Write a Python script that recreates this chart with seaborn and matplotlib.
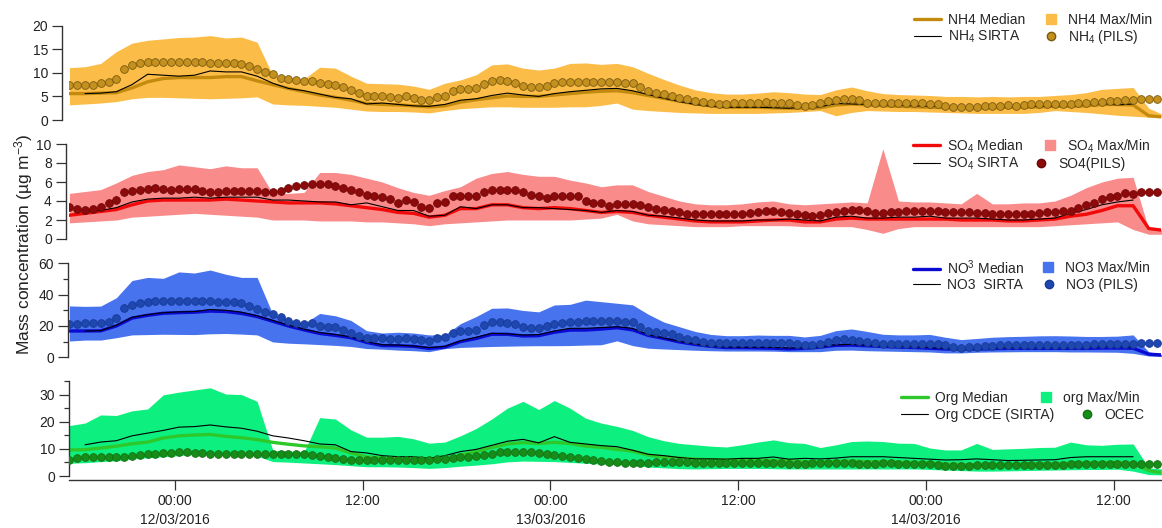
import numpy as np
import pandas as pd
import matplotlib
matplotlib.use("Agg")
import matplotlib.pyplot as plt
import matplotlib.dates as mdates
from matplotlib.lines import Line2D
from matplotlib.legend import Legend
from matplotlib.ticker import MultipleLocator, FuncFormatter
import seaborn as sns

nan = np.nan

# ---------------- time bases ----------------
t_hourly = pd.date_range("2016-03-11 17:15", periods=71, freq="1h")
t_pils = pd.date_range("2016-03-11 17:15", periods=140, freq="30min")
x_start = pd.Timestamp("2016-03-11 17:15")
x_end = pd.Timestamp("2016-03-14 15:00")

# ---------------- NH4 ----------------
nh4_max = [11.1, 11.3, 12.0, 14.5, 16.3, 16.9, 17.2, 17.5, 17.6, 17.9, 17.4, 17.6, 16.5,
           9.5, 8.8, 8.7, 11.2, 11.0, 9.3, 7.8, 7.7, 7.6, 7.2, 6.5,
           7.8, 8.5, 9.6, 11.7, 11.9, 11.0, 10.6, 11.0, 12.0, 12.1, 11.8, 12.0, 11.3, 9.9, 8.6, 7.4,
           6.4, 5.8, 5.5, 5.5, 5.7, 6.0, 5.8,
           5.5, 5.4, 6.4, 7.0, 6.2, 5.6, 5.4, 5.3, 5.2, 5.0, 5.0, 4.9, 5.0, 4.9, 5.0, 5.0, 5.2, 5.4,
           5.8, 6.5, 6.7, 6.9, 2.5, 1.0]
nh4_min = [3.2, 3.4, 3.6, 3.9, 4.5, 4.8, 4.8, 4.7, 4.6, 4.5, 4.6, 4.7, 4.9,
           3.4, 3.2, 3.1, 2.9, 2.7, 2.3, 1.9, 1.8, 1.8, 1.7, 1.5,
           2.0, 2.4, 2.6, 2.8, 2.8, 2.7, 2.7, 2.7, 2.8, 2.8, 3.1, 3.6, 2.3, 2.0, 1.8, 1.6, 1.5, 1.4,
           1.4, 1.4, 1.4, 1.5, 1.6,
           1.8, 2.0, 0.9, 1.6, 2.0, 1.9, 1.8, 1.8, 1.7, 1.6, 1.5, 1.4, 1.4, 1.4, 1.4, 1.6, 2.0, 1.8,
           1.6, 1.3, 1.0, 0.8, 0.6, 0.6]
nh4_median = [5.6, 5.6, 5.7, 5.8, 6.8, 8.1, 8.8, 9.0, 9.0, 9.0, 9.2, 9.2, 8.3,
              7.5, 6.7, 6.0, 5.3, 4.8, 4.2, 3.5, 3.3, 3.2, 3.0, 2.8,
              3.0, 3.8, 4.3, 4.7, 5.1, 5.0, 5.0, 5.3, 5.6, 5.9, 6.1, 6.2, 5.8, 5.2, 4.6, 4.0, 3.4,
              3.0, 2.7, 2.7, 2.7, 2.6, 2.5,
              2.5, 2.6, 3.2, 3.4, 3.2, 3.0, 2.9, 2.8, 2.7, 2.6, 2.6, 2.5, 2.6, 2.7, 2.7, 2.8, 2.9, 2.9,
              3.0, 3.3, 3.3, 3.2, 0.9, 0.6]
nh4_sirta = [nan, 5.6, 5.7, 6.0, 7.5, 9.7, 9.5, 9.3, 9.5, 10.4, 10.2, 10.2, 9.3,
             7.8, 6.7, 6.2, 5.5, 4.8, 4.5, 3.4, 3.6, 3.3, 3.0, 2.9,
             3.3, 4.2, 4.5, 5.2, 5.7, 5.3, 5.0, 5.6, 6.0, 6.3, 6.6, 6.7, 6.2, 5.4, 4.6, 3.9, 3.3,
             2.9, 2.7, 2.7, 2.7, 2.6, 2.5,
             2.7, 2.8, 3.5, 3.4, 3.3, 3.2, 3.1, 3.0, 2.9, 2.9, 2.8, 2.8, 2.7, 2.8, 2.9, 2.9, 3.0, 3.1,
             3.3, 3.5, 3.2, 3.4, nan, nan]
nh4_pils = [7.4, 7.4, 7.4, 7.5, 7.8, 8.1, 8.6, 10.8, 11.7, 12.0, 12.3, 12.4, 12.4, 12.3, 12.3,
            12.3, 12.3, 12.2, 12.1, 12.0, 12.0, 12.0, 11.9, 11.5, 10.8, 10.2, 9.7, 9.0, 8.6, 8.5,
            8.2, 8.3, 7.9, 7.6, 7.5, 6.9, 6.4, 5.7, 5.1, 5.1, 5.1, 4.9, 4.7, 5.0, 4.6, 4.3, 4.2,
            4.9, 5.1, 6.2, 6.5, 6.5, 6.7, 7.6, 8.3, 8.5, 8.2, 7.9, 7.3, 7.0, 7.0, 7.3, 7.8, 8.0,
            8.1, 8.1, 8.1, 8.1, 8.1, 8.1, 8.1, 7.9, 7.8, 6.9, 6.2, 5.8, 5.5, 5.1, 4.6, 4.4, 4.1,
            3.8, 3.5, 3.4, 3.4, 3.5, 3.5, 3.5, 3.7, 3.8, 3.7, 3.7, 3.5,
            3.2, 3.0, 3.2, 3.5, 4.1, 4.2, 4.4, 4.4, 4.2, 3.7, 3.7, 3.7, 3.7, 3.7, 3.5, 3.5, 3.5,
            3.4, 3.3, 3.0, 2.7, 2.7, 2.8, 2.8, 3.0, 3.0, 3.0, 3.1, 3.0, 3.1, 3.3, 3.4, 3.4, 3.4,
            3.4, 3.4, 3.5, 3.5, 3.8, 3.9, 4.1, 4.1, 4.2, 4.2, 4.4, 4.4, 4.4]

# ---------------- SO4 ----------------
so4_max = [4.8, 5.0, 5.2, 5.9, 6.7, 7.1, 7.3, 7.8, 7.6, 7.4, 7.7, 7.5, 7.5, 4.8, 4.8, 4.9,
           7.0, 7.0, 6.8, 6.4, 6.0, 5.4, 4.9, 4.6,
           5.1, 5.5, 6.4, 6.9, 7.1, 6.8, 6.6, 6.6, 6.2, 5.9, 5.5, 5.7, 5.7, 5.0, 4.5, 4.0, 3.7,
           3.6, 3.6, 3.7, 3.9, 4.0, 3.7,
           3.6, 3.7, 3.8, 3.9, 3.8, 9.5, 4.0, 3.9, 3.9, 3.8, 3.7, 4.8, 3.7, 3.7, 3.8, 3.8, 4.0,
           4.6, 5.4, 6.0, 6.4, 6.5, 1.0, 1.0]
so4_min = [1.7, 1.8, 1.9, 2.0, 2.3, 2.4, 2.5, 2.6, 2.7, 2.6, 2.5, 2.4, 2.3, 2.0, 2.0, 2.0,
           1.9, 1.9, 1.9, 1.8, 1.8, 1.7, 1.6, 1.4,
           1.6, 1.7, 1.8, 1.9, 2.0, 2.0, 2.0, 2.0, 2.0, 2.1, 2.2, 2.6, 1.9, 1.6, 1.5, 1.4, 1.3,
           1.3, 1.3, 1.4, 1.4, 1.4, 1.4,
           1.3, 1.3, 1.3, 1.3, 1.0, 0.6, 1.1, 1.3, 1.3, 1.3, 1.3, 1.3, 1.3, 1.3, 1.3, 1.3, 1.4,
           1.5, 1.6, 1.7, 1.8, 1.0, 0.5, 0.5]
so4_median = [2.5, 2.7, 2.9, 3.1, 3.6, 4.0, 4.1, 4.1, 4.1, 4.1, 4.2, 4.1, 4.0, 3.9, 3.8, 3.8,
              3.8, 3.7, 3.5, 3.3, 3.1, 2.8, 2.7, 2.3,
              2.5, 3.2, 3.2, 3.6, 3.6, 3.3, 3.2, 3.3, 3.2, 3.0, 2.8, 2.9, 2.8, 2.5, 2.3, 2.1, 1.9,
              1.8, 1.8, 1.8, 1.9, 2.0, 2.0,
              1.8, 1.8, 2.1, 2.2, 2.1, 2.1, 2.1, 2.1, 2.1, 2.1, 2.0, 2.0, 2.0, 1.9, 1.9, 2.0, 2.1,
              2.4, 2.6, 3.0, 3.5, 3.5, 1.1, 0.9]
so4_sirta = [nan, 2.9, 3.0, 3.3, 3.9, 4.2, 4.3, 4.3, 4.4, 4.3, 4.4, 4.4, 4.4, 4.1, 4.1, 4.0,
             3.9, 3.9, 3.6, 3.8, 3.4, 3.0, 3.0, 2.4,
             2.5, 3.4, 3.2, 3.6, 3.6, 3.3, 3.3, 3.2, 3.1, 3.0, 2.8, 3.0, 2.9, 2.5, 2.4, 2.2, 2.0,
             1.9, 1.9, 1.9, 2.0, 2.0, 2.1,
             2.0, 1.9, 2.3, 2.4, 2.2, 2.2, 2.3, 2.3, 2.4, 2.2, 2.2, 2.2, 2.1, 2.0, 2.0, 2.1, 2.2,
             2.7, 3.1, 3.6, 3.9, 4.1, nan, nan]
so4_pils = [3.4, 3.2, 3.1, 3.2, 3.4, 3.8, 4.1, 4.9, 5.1, 5.2, 5.3, 5.4, 5.3, 5.2, 5.3, 5.3,
            5.3, 5.1, 4.9, 4.9, 5.1, 5.1, 5.1, 5.1, 5.1, 5.0, 4.9, 5.1, 5.4, 5.6, 5.7, 5.8, 5.8,
            5.8, 5.6, 5.4, 5.2, 5.0, 4.6, 4.5, 4.4, 4.2, 3.8, 4.1, 3.9, 3.4, 3.3,
            3.8, 3.9, 4.5, 4.5, 4.5, 4.5, 4.9, 5.2, 5.2, 5.2, 5.2, 4.9, 4.6, 4.5, 4.3, 4.5, 4.5,
            4.5, 4.5, 4.0, 3.8, 3.8, 3.5, 3.7, 3.7, 3.7, 3.6, 3.4, 3.2, 3.1, 3.0, 2.8, 2.6, 2.6,
            2.6, 2.6, 2.6, 2.6, 2.6, 2.6, 2.7, 2.8, 2.9, 2.9, 2.8, 2.7,
            2.6, 2.5, 2.4, 2.5, 2.7, 2.8, 2.9, 3.1, 3.1, 2.9, 2.7, 2.7, 2.8, 2.8, 2.9, 2.9, 2.9,
            2.9, 2.9, 2.8, 2.8, 2.8, 2.8, 2.7, 2.7, 2.6, 2.6, 2.6, 2.6, 2.6, 2.6, 2.7, 2.8, 2.8,
            2.9, 3.0, 3.3, 3.6, 3.8, 4.2, 4.4, 4.5, 4.8, 4.7, 5.0, 5.0, 5.0]

# ---------------- NO3 ----------------
no3_max = [32.8, 32.5, 32.7, 38.0, 49.0, 51.0, 50.4, 54.5, 53.8, 55.7, 53.0, 51.0, 51.0,
           27.5, 24.0, 21.5, 28.0, 26.5, 23.5, 17.0, 15.5, 16.0, 15.5, 14.3,
           14.3, 21.5, 26.0, 31.3, 31.5, 29.9, 29.0, 33.4, 33.8, 36.5, 35.5, 34.5, 33.5, 27.5,
           22.5, 19.5, 16.5, 14.6, 13.8, 13.8, 14.2, 14.0, 14.0,
           13.0, 14.0, 17.0, 18.1, 16.5, 14.7, 14.3, 14.3, 14.6, 12.8, 11.3, 12.0, 12.8, 13.2,
           13.4, 13.7, 13.8, 13.6, 13.3, 13.3, 13.5, 14.3, 3.5, 1.5]
no3_min = [10.4, 11.0, 11.0, 12.5, 14.3, 14.5, 14.7, 14.6, 14.5, 15.0, 15.2, 14.8, 14.3,
           9.8, 9.0, 8.6, 8.1, 7.6, 6.9, 5.6, 5.2, 4.6, 4.2, 3.6,
           5.5, 6.3, 6.6, 6.9, 7.1, 7.3, 7.4, 7.4, 7.5, 7.8, 8.0, 10.5, 7.5, 5.8, 5.3, 4.9, 4.5,
           4.2, 4.0, 4.0, 4.0, 3.9, 3.6,
           3.6, 3.6, 4.5, 4.6, 4.2, 4.0, 3.8, 3.6, 3.4, 2.8, 2.8, 3.2, 3.4, 3.5, 3.6, 3.6, 3.6,
           3.4, 3.4, 3.3, 3.2, 2.5, 0.8, 0.4]
no3_median = [16.8, 16.8, 16.9, 20.0, 25.0, 26.8, 28.1, 28.5, 28.8, 29.5, 29.2, 28.0, 26.0,
              23.0, 20.0, 17.5, 15.2, 14.0, 12.5, 9.5, 7.5, 7.4, 7.0, 5.7,
              6.5, 10.0, 12.0, 14.7, 14.7, 13.6, 13.8, 16.0, 17.4, 17.4, 18.0, 18.9, 17.5, 14.0,
              12.0, 9.8, 8.2, 7.0, 6.2, 6.2, 6.0, 5.8, 5.3,
              5.7, 6.5, 7.6, 7.8, 7.3, 6.9, 6.5, 6.2, 5.8, 5.3, 5.3, 5.3, 5.5, 5.7, 5.7, 5.7, 5.7,
              5.7, 5.7, 5.9, 5.9, 5.8, 2.0, 1.4]
no3_sirta = [nan, 16.8, 17.0, 20.5, 25.5, 27.2, 28.5, 29.0, 29.2, 30.5, 30.0, 28.8, 26.5,
             23.5, 20.5, 18.0, 15.8, 14.6, 13.0, 10.0, 8.0, 7.8, 7.2, 6.2,
             7.0, 10.5, 12.8, 15.3, 15.0, 14.2, 14.5, 16.8, 18.5, 18.5, 19.0, 19.5, 18.5, 14.5,
             12.3, 10.2, 8.5, 7.2, 6.6, 6.5, 6.5, 6.3, 6.0,
             6.2, 6.8, 8.0, 8.3, 7.7, 7.5, 7.0, 6.8, 6.2, 5.7, 5.8, 6.2, 6.2, 6.3, 6.4, 6.5, 6.6,
             6.6, 6.8, 6.9, 7.0, 6.6, nan, nan]
no3_pils = [21.3, 21.3, 21.7, 21.7, 21.7, 22.8, 24.9, 31.3, 33.4, 34.5, 35.5, 36.0, 36.0,
            36.0, 36.0, 36.0, 36.0, 36.0, 36.0, 35.5, 35.5, 35.1, 34.9, 33.0, 30.9, 29.1, 27.4,
            26.0, 23.2, 22.1, 21.1, 21.7, 20.0, 19.6, 19.1, 17.4, 15.3, 13.8, 12.1, 12.1, 12.1,
            11.7, 11.5, 12.6, 11.7, 11.1, 10.4,
            12.1, 13.2, 15.3, 16.8, 16.8, 17.4, 20.6, 22.8, 22.8, 22.1, 21.1, 19.6, 18.9, 18.9,
            20.0, 21.1, 21.7, 22.3, 22.8, 23.2, 23.2, 23.4, 23.2, 23.2, 22.8, 22.3, 19.6, 16.8,
            16.0, 15.3, 14.7, 13.2, 11.7, 11.1, 10.0, 8.9, 8.9, 8.9, 8.9, 9.1, 9.1, 9.1, 9.4,
            9.4, 9.4, 8.9,
            8.3, 7.9, 7.9, 8.3, 10.0, 11.1, 11.5, 11.1, 10.4, 9.6, 8.9, 8.7, 8.7, 8.7, 8.7, 8.7,
            8.7, 8.7, 8.3, 7.9, 6.8, 6.2, 6.6, 6.8, 7.4, 7.4, 7.9, 7.9, 7.9, 7.9, 7.9, 7.9, 7.9,
            7.9, 7.9, 7.9, 7.9, 7.9, 8.3, 8.3, 8.3, 8.3, 8.3, 8.3, 8.9, 8.9, 8.9]

# ---------------- Organics ----------------
org_max = [18.6, 19.5, 22.5, 22.3, 24.0, 24.7, 29.9, 30.9, 31.7, 32.5, 30.2, 30.0, 27.5,
           9.5, 9.2, 8.8, 21.5, 21.0, 17.0, 14.3, 14.3, 14.6, 13.7, 12.1,
           12.5, 14.8, 17.5, 21.0, 25.0, 27.5, 24.5, 27.8, 25.0, 21.3, 19.5, 18.3, 16.8, 14.5,
           13.0, 12.0, 11.5, 11.0, 10.7, 11.5, 12.5, 13.3, 12.3,
           12.0, 10.5, 11.5, 12.7, 12.9, 12.7, 12.1, 12.0, 10.3, 9.6, 9.6, 12.0, 9.8, 10.0, 10.2,
           10.5, 10.6, 12.5, 11.5, 11.3, 11.7, 11.8, 3.0, 2.5]
org_min = [4.7, 4.9, 5.3, 5.6, 6.4, 6.7, 7.1, 7.5, 8.0, 8.0, 7.7, 7.6, 7.4,
           5.3, 5.1, 4.8, 4.5, 4.2, 3.8, 3.4, 3.4, 3.3, 3.1, 2.8,
           3.1, 3.6, 4.0, 4.5, 5.2, 5.5, 5.4, 5.3, 5.0, 4.7, 4.4, 4.2, 4.0, 3.3, 3.0, 2.7, 2.6,
           2.7, 2.8, 2.8, 2.8, 2.7, 2.6,
           2.6, 2.6, 2.6, 2.6, 2.6, 2.6, 2.6, 2.6, 2.4, 2.2, 2.0, 1.8, 1.8, 1.9, 2.0, 2.1, 2.2,
           2.3, 2.4, 2.4, 2.5, 1.8, 0.5, 0.4]
org_median = [9.6, 9.7, 10.3, 11.0, 11.9, 12.5, 14.0, 14.8, 15.1, 15.3, 14.6, 14.1, 13.4,
              12.4, 11.7, 11.1, 10.8, 10.3, 8.5, 7.0, 6.6, 6.3, 6.1, 5.9,
              6.3, 7.6, 9.0, 10.5, 11.8, 12.3, 12.0, 12.4, 12.0, 11.0, 10.6, 9.8, 9.2, 7.7, 7.0,
              6.6, 6.2, 6.0, 5.9, 5.9, 5.9, 5.7, 5.6,
              5.3, 5.1, 5.4, 5.5, 5.3, 5.3, 5.1, 5.0, 4.8, 4.4, 4.3, 4.1, 4.1, 4.2, 4.3, 4.5, 4.6,
              4.7, 4.8, 4.9, 5.0, 4.7, 2.0, 1.0]
org_sirta = [nan, 11.5, 12.5, 13.0, 14.8, 15.8, 16.8, 18.0, 18.2, 18.8, 18.1, 17.6, 16.5,
             14.8, 14.0, 13.0, 11.8, 11.5, 9.0, 8.5, 7.5, 7.1, 7.1, 6.5,
             7.5, 9.0, 9.8, 11.3, 12.8, 13.5, 12.2, 14.5, 12.4, 11.8, 11.2, 10.8, 9.5, 8.0, 7.5,
             6.8, 6.3, 6.3, 6.2, 6.5, 6.5, 7.0, 6.2,
             6.5, 6.3, 6.6, 7.1, 7.1, 7.1, 6.8, 6.5, 6.2, 5.9, 6.0, 6.3, 6.0, 5.7, 5.8, 5.9, 6.0,
             6.8, 7.1, 7.1, 7.1, 7.1, nan, nan]
org_ocec = [5.9, 6.5, 6.9, 7.1, 7.1, 7.1, 7.1, 7.1, 7.4, 7.6, 8.0, 8.2, 8.4, 8.6, 8.7, 8.7,
            8.6, 8.4, 8.1, 8.0, 8.0, 8.0, 8.0, 8.0, 8.0, 8.0, 8.0, 8.0, 8.0, 8.0, 8.0, 7.7, 7.4,
            7.1, 6.8, 6.3, 6.0, 5.9, 5.9, 5.9, 5.9, 5.9, 6.0, 5.9, 5.9, 5.9, 5.8,
            6.3, 6.3, 6.8, 6.9, 7.1, 7.4, 7.7, 8.1, 8.7, 9.0, 9.0, 8.7, 8.7, 8.4, 8.0, 7.7, 7.4,
            7.1, 6.5, 6.3, 5.9, 5.5, 5.3, 5.0, 4.9, 4.7, 4.7, 4.9, 5.0, 5.0, 5.0, 5.0, 5.0, 4.9,
            4.7, 4.7, 4.7, 4.7, 4.7, 4.7, 4.7, 4.7, 4.7, 4.7, 4.7, 4.6,
            4.6, 4.6, 4.7, 4.7, 4.8, 4.8, 4.7, 4.7, 4.6, 4.6, 4.6, 4.7, 4.7, 4.6, 4.6, 4.5, 4.4,
            4.3, 4.0, 3.8, 3.7, 3.7, 3.8, 3.9, 4.0, 4.0, 4.1, 4.1, 4.2, 4.2, 4.2, 4.2, 4.2, 4.2,
            4.2, 4.3, 4.3, 4.3, 4.3, 4.3, 4.3, 4.3, 4.3, 4.4, 4.5, 4.6, 4.6]

# ---------------- labels ----------------
nh4_labels = ["NH4 Median", "NH$_4$ SIRTA", "NH4 Max/Min", "NH$_4$ (PILS)"]
so4_labels = ["SO$_4$ Median", "SO$_4$ SIRTA", "SO$_4$ Max/Min", "SO4(PILS)"]
no3_labels = ["NO$^3$ Median", "NO3  SIRTA", "NO3 Max/Min", "NO3 (PILS)"]
org_labels = ["Org Median", "Org CDCE (SIRTA)", "org Max/Min", "OCEC"]
y_label = "Mass concentration (µg m$^{-3}$)"

# ---------------- style ----------------
sns.set_style("ticks")
plt.rcParams["font.family"] = ["Liberation Sans", "DejaVu Sans"]
plt.rcParams["mathtext.fontset"] = "custom"
plt.rcParams["mathtext.rm"] = "Liberation Sans"
plt.rcParams["mathtext.it"] = "Liberation Sans:italic"
plt.rcParams["mathtext.bf"] = "Liberation Sans:bold"
plt.rcParams["mathtext.default"] = "regular"

W, H = 1162, 528
FS = 10.0
FS_PX = FS * 100 / 72.0
fig = plt.figure(figsize=(W / 100, H / 100), dpi=100)

left_px, right_px = 69.4, 1160.5


def make_ax(top_px, bottom_px):
    return fig.add_axes([left_px / W, 1 - bottom_px / H,
                         (right_px - left_px) / W, (bottom_px - top_px) / H])


# legend layout: row centres (px), text start of column 1, text start of column 2 per row
panels = [
    dict(top=25.7, bottom=120.0, ylim=(0, 20), major=5, minor=None, off=5.0,
         mx=nh4_max, mn=nh4_min, med=nh4_median, sir=nh4_sirta, dots=nh4_pils,
         band="#FBBD48", medc="#C48A0E", dotc="#C4901E", dotec="#7A5A10",
         labels=nh4_labels, rows=(20, 37), c1=948, c2=(1068, 1068)),
    dict(top=144.0, bottom=239.0, ylim=(0, 10), major=2, minor=None, off=2.5,
         mx=so4_max, mn=so4_min, med=so4_median, sir=so4_sirta, dots=so4_pils,
         band="#F98B8B", medc="#F20A0A", dotc="#8E0A0A", dotec="#6E0606",
         labels=so4_labels, rows=(146, 164), c1=947, c2=(1067, 1058)),
    dict(top=263.3, bottom=357.3, ylim=(0, 60), major=20, minor=10, off=1.0,
         mx=no3_max, mn=no3_min, med=no3_median, sir=no3_sirta, dots=no3_pils,
         band="#4873EE", medc="#0A0AD2", dotc="#1E47B0", dotec="#163A98",
         labels=no3_labels, rows=(268, 285), c1=947, c2=(1065, 1066)),
    dict(top=381.0, bottom=476.0, ylim=(0, 35), major=10, minor=5, off=0.0,
         mx=org_max, mn=org_min, med=org_median, sir=org_sirta, dots=org_ocec,
         band="#0DF07F", medc="#2EC82A", dotc="#188C18", dotec="#127212",
         labels=org_labels, rows=(398, 415), c1=935, c2=(1063, 1104)),
]

spine_c = "#333333"
HL_LINE, HL_MARK, HTP = 1.95, 1.4, 0.5


def add_entry(ax, handle, label, text_x, row_y, hl):
    box_left = text_x - (hl + HTP) * FS_PX
    leg = Legend(ax, [handle], [label], loc="center left",
                 bbox_to_anchor=(box_left / W, 1 - row_y / H),
                 bbox_transform=fig.transFigure, frameon=False, fontsize=FS,
                 handlelength=hl, handletextpad=HTP, borderpad=0.0,
                 borderaxespad=0.0)
    ax.add_artist(leg)


for i, p in enumerate(panels):
    ax = make_ax(p["top"], p["bottom"])
    df_h = pd.DataFrame({"time": t_hourly, "max": p["mx"], "min": p["mn"],
                         "median": p["med"], "sirta": p["sir"]})
    df_d = pd.DataFrame({"time": t_pils, "pils": p["dots"]})

    ax.fill_between(df_h["time"], df_h["min"], df_h["max"], color=p["band"],
                    linewidth=0, zorder=1)
    sns.lineplot(data=df_h, x="time", y="median", ax=ax, color=p["medc"],
                 linewidth=2.4, estimator=None, zorder=2)
    sns.lineplot(data=df_h, x="time", y="sirta", ax=ax, color="black",
                 linewidth=0.8, estimator=None, zorder=3)
    sns.scatterplot(data=df_d, x="time", y="pils", ax=ax, color=p["dotc"],
                    edgecolor=p["dotec"], s=31, linewidth=0.6, zorder=4, legend=False)

    ax.set_xlim(x_start, x_end)
    ax.set_ylim(*p["ylim"])
    ax.set_xlabel("")
    ax.set_ylabel("")
    ax.yaxis.set_major_locator(MultipleLocator(p["major"]))
    if p["minor"]:
        ax.yaxis.set_minor_locator(MultipleLocator(p["minor"]))
    for s in ["top", "right"]:
        ax.spines[s].set_visible(False)
    ax.spines["left"].set_position(("outward", p["off"]))
    ax.spines["left"].set_color(spine_c)
    ax.spines["left"].set_linewidth(1.0)
    ax.tick_params(axis="y", which="major", length=7.2, width=0.9, pad=3.0,
                   labelsize=FS, colors=spine_c, labelcolor="#222222")
    ax.tick_params(axis="y", which="minor", length=3.6, width=0.9, colors=spine_c)

    if i < 3:
        ax.spines["bottom"].set_visible(False)
        ax.tick_params(axis="x", which="both", bottom=False, labelbottom=False)
    else:
        ax.spines["bottom"].set_position(("outward", 3.0))
        ax.spines["bottom"].set_color(spine_c)
        ax.spines["bottom"].set_linewidth(1.0)
        ax.xaxis.set_major_locator(mdates.HourLocator(byhour=[0, 12]))

        def fmt(x, pos):
            d = mdates.num2date(x)
            if d.hour == 0:
                return "00:00\n" + d.strftime("%d/%m/%Y")
            return d.strftime("%H:%M")

        ax.xaxis.set_major_formatter(FuncFormatter(fmt))
        ax.tick_params(axis="x", which="major", length=7.2, width=0.9, pad=3.0,
                       labelsize=FS, colors=spine_c, labelcolor="#222222")
        ax.tick_params(axis="x", which="minor", bottom=False)
        fig.canvas.draw()
        for lab in ax.get_xticklabels():
            lab.set_linespacing(1.45)

    h_med = Line2D([], [], color=p["medc"], linewidth=2.4)
    h_sir = Line2D([], [], color="black", linewidth=0.8)
    h_band = Line2D([], [], marker="s", linestyle="None", color=p["band"], markersize=7.5)
    h_dot = Line2D([], [], marker="o", linestyle="None", markerfacecolor=p["dotc"],
                   markeredgecolor=p["dotec"], markersize=6.0)
    r1, r2 = p["rows"]
    add_entry(ax, h_med, p["labels"][0], p["c1"], r1, HL_LINE)
    add_entry(ax, h_sir, p["labels"][1], p["c1"], r2, HL_LINE)
    add_entry(ax, h_band, p["labels"][2], p["c2"][0], r1, HL_MARK)
    add_entry(ax, h_dot, p["labels"][3], p["c2"][1], r2, HL_MARK)

fig.text(24 / W, 1 - 244 / H, y_label, rotation=90, ha="center", va="center",
         fontsize=12.5, color="#222222")

fig.savefig("out.png", dpi=100)
